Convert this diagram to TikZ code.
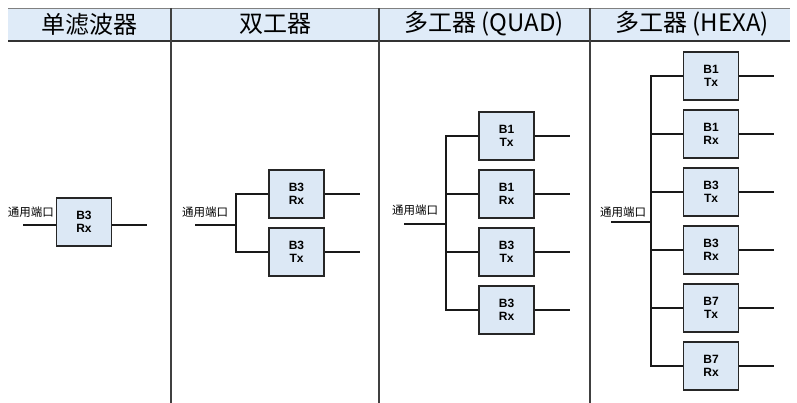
\documentclass[tikz,border=0pt]{standalone}
\usepackage{fontspec}
\setmainfont{Liberation Sans}
\newfontfamily\cjk{Noto Sans CJK SC}
\definecolor{boxblue}{HTML}{DCE8F5}
\definecolor{headblue}{HTML}{DFEBF8}
\begin{document}
\begin{tikzpicture}[x=1pt,y=-1pt,
  filt/.style={draw=black!85, line width=1.6pt, fill=boxblue, minimum width=55pt,
    minimum height=48pt, inner sep=0pt, align=center,
    font=\fontsize{12}{13.5}\selectfont\bfseries},
  wire/.style={line width=1.6pt, draw=black!90},
  port/.style={font=\cjk\fontsize{11.5}{12}\selectfont, inner sep=0pt},
  head/.style={font=\cjk\fontsize{24}{26}\selectfont, inner sep=0pt},
  divider/.style={line width=1.8pt, draw=black!75}]
\useasboundingbox (0,0) rectangle (797,403);
% header band
\fill[headblue] (8,8) rectangle (790,41);
\draw[gray, line width=0.8pt] (8,8) -- (790,8);
\draw[black!80, line width=1.6pt] (8,41) -- (790,41);
\foreach \x in {171,379,590} \draw[divider] (\x,8) -- (\x,403);
\node[head] (h1) at (89,24) {单滤波器};
\node[head] (h2) at (275,24) {双工器};
\node[head] (h3) at (484,24) {多工器 (QUAD)};
\node[head] (h4) at (692,24) {多工器 (HEXA)};

% single filter
\node[filt] (s1) at (84,222) {B3\\Rx};
\node[port] (sp) at (31,212) {通用端口};
\coordinate (sin) at (23,225);
\coordinate (sout) at (147,225);
\draw[wire] (sin) -- (sin -| s1.west);
\draw[wire] (s1.east |- sout) -- (sout);

% duplexer
\node[filt] (d1) at (296.5,194) {B3\\Rx};
\node[filt] (d2) at (296.5,252) {B3\\Tx};
\node[port] (dp) at (205,212) {通用端口};
\coordinate (din) at (195,225);
\coordinate (dj) at (236,225);
\draw[wire] (din) -- (dj);
\draw[wire] (d1.west) -| (dj) |- (d2.west);
\foreach \i in {1,2} {
  \coordinate (dout\i) at (360,0 |- d\i.east);
  \draw[wire] (d\i.east) -- (dout\i);
}

% quad
\foreach \i/\b/\t [evaluate=\i as \yy using 136+58*(\i-1)] in {1/B1/Tx,2/B1/Rx,3/B3/Tx,4/B3/Rx} {
  \node[filt] (q\i) at (506.5,\yy) {\b\\\t};
  \coordinate (qout\i) at (570,\yy);
  \draw[wire] (q\i.east) -- (qout\i);
}
\node[port] (qp) at (415,210) {通用端口};
\coordinate (qin) at (404,224);
\coordinate (qj) at (446,224);
\draw[wire] (qin) -- (qj);
\draw[wire] (q1.west) -| (qj) |- (q4.west);
\draw[wire] (q2.west) -- (q2.west -| qj);
\draw[wire] (q3.west) -- (q3.west -| qj);

% hexa
\foreach \i/\b/\t [evaluate=\i as \yy using 76+58*(\i-1)] in {1/B1/Tx,2/B1/Rx,3/B3/Tx,4/B3/Rx,5/B7/Tx,6/B7/Rx} {
  \node[filt] (x\i) at (711,\yy) {\b\\\t};
  \coordinate (xout\i) at (774,\yy);
  \draw[wire] (x\i.east) -- (xout\i);
}
\node[port] (xp) at (623,212) {通用端口};
\coordinate (xin) at (611,222);
\coordinate (xj) at (651,222);
\draw[wire] (xin) -- (xj);
\draw[wire] (x1.west) -| (xj) |- (x6.west);
\foreach \i in {2,3,4,5} \draw[wire] (x\i.west) -- (x\i.west -| xj);
\end{tikzpicture}
\end{document}
